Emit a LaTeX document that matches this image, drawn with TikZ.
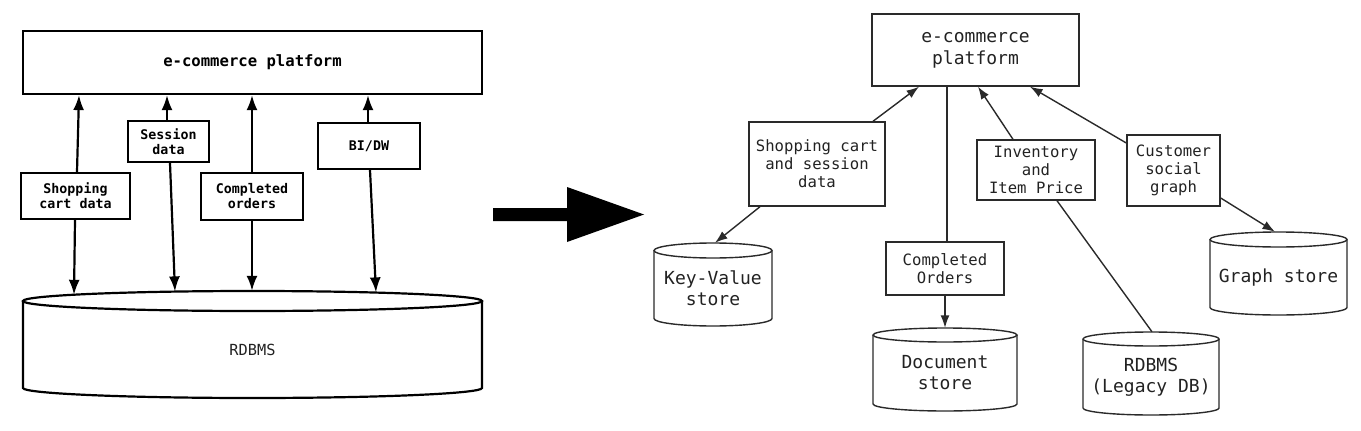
\documentclass[tikz,border=0pt]{standalone}
\usepackage{fontspec}
\setmonofont{DejaVu Sans Mono}
\usetikzlibrary{arrows.meta,calc}
\definecolor{lnc}{HTML}{2A2A2A}
\definecolor{txc}{HTML}{222222}
\newcommand\dbcyl[9]{% #1 name, #2 cx, #3 y of top ellipse centre, #4 y of bottom ellipse centre, #5 rx, #6 ry, #7 line style, #8 node style, #9 text
  \draw[#7] ({#2-#5},#3) -- ({#2-#5},#4) arc[start angle=180,end angle=0,x radius=#5,y radius=#6] -- ({#2+#5},#3);
  \draw[#7] (#2,#3) ellipse[x radius=#5,y radius=#6];
  \node[#8, inner sep=0pt, minimum width={2*#5}, minimum height={#4+#6-#3}] (#1) at (#2,{(#3+#4+#6)/2}) {#9};
}
\begin{document}
\begin{tikzpicture}[x=1pt,y=-1pt,
  lbox/.style={draw, line width=2.2pt, font=\ttfamily\bfseries\fontsize{13.3}{15}\selectfont, align=center, inner sep=0pt},
  rbox/.style={draw=lnc, line width=1.4pt, text=txc, font=\ttfamily\fontsize{15.6}{18}\selectfont, align=center, inner sep=0pt},
  larr/.style={line width=2.2pt, -{Latex[length=15pt,width=11pt]}},
  rarr/.style={draw=lnc, line width=1.4pt, -{Latex[length=12.5pt,width=9pt]}},
  rline/.style={draw=lnc, line width=1.4pt},
  lcyl/.style={line width=2.2pt},
  rcyl/.style={draw=lnc, line width=1.4pt},
  lcyltext/.style={font=\ttfamily\fontsize{15.3}{18}\selectfont, text=txc},
  rcyltext/.style={font=\ttfamily\fontsize{18}{21}\selectfont, text=txc, align=center},
]
\useasboundingbox (0,0) rectangle (1361,431);

% ---------------- left diagram ----------------
\node[lbox, font=\ttfamily\bfseries\fontsize{15.6}{18}\selectfont, minimum width=459, minimum height=63] (plat) at (252.5,62.5) {e-commerce platform};
\node[lbox, minimum width=109, minimum height=46] (shop) at (75.5,196) {Shopping\\cart data};
\node[lbox, minimum width=81, minimum height=41] (sess) at (168.5,141.5) {Session\\data};
\node[lbox, minimum width=102, minimum height=47] (comp) at (252,196.5) {Completed\\orders};
\node[lbox, minimum width=102, minimum height=46] (bidw) at (369,146) {BI/DW};
\dbcyl{rdb}{252.5}{301}{388}{229.5}{10}{lcyl}{lcyltext}{RDBMS}

\draw[larr] ($(shop.north)+(1.5,0)$) -- ($(shop.north |- plat.south)+(3.5,0)$);
\draw[larr] ($(shop.south)+(-0.5,0)$) -- ($(shop.south |- rdb.north)+(-1.5,-6)$);
\draw[larr] ($(sess.north)+(-1.5,0)$) -- ($(sess.north |- plat.south)+(-1.5,0)$);
\draw[larr] ($(sess.south)+(1.5,0)$) -- ($(sess.south |- rdb.north)+(6.5,-9.4)$);
\draw[larr] (comp.north) -- (comp.north |- plat.south);
\draw[larr] (comp.south) -- ($(comp.south |- rdb.north)+(0,-10)$);
\draw[larr] ($(bidw.north)+(-1,0)$) -- ($(bidw.north |- plat.south)+(-1,0)$);
\draw[larr] ($(bidw.south)+(1,0)$) -- ($(bidw.south |- rdb.north)+(7,-8.4)$);

% ---------------- transition arrow ----------------
\fill (493,208) -- (567,208) -- (567,187) -- (644,214.5) -- (567,242) -- (567,221) -- (493,221) -- cycle;

% ---------------- right diagram ----------------
\node[rbox, font=\ttfamily\fontsize{18}{22}\selectfont, minimum width=207, minimum height=72] (plat2) at (975.5,50) {e-commerce\\platform};
\node[rbox, minimum width=136, minimum height=84] (scs) at (817,164) {Shopping cart\\and session\\data};
\node[rbox, minimum width=118, minimum height=53] (co) at (945,268.5) {Completed\\Orders};
\node[rbox, minimum width=118, minimum height=60] (inv) at (1036,170) {Inventory\\and\\Item Price};
\node[rbox, minimum width=93, minimum height=71] (cust) at (1173.5,170.5) {Customer\\social\\graph};

\dbcyl{kv}{713}{250.5}{318.5}{59}{7.5}{rcyl}{rcyltext}{Key-Value\\store}
\dbcyl{doc}{945}{335}{404}{72}{7}{rcyl}{rcyltext}{Document\\store}
\dbcyl{graph}{1278.5}{239.5}{307.5}{68.5}{7.5}{rcyl}{rcyltext}{Graph store}
\dbcyl{leg}{1151}{339}{408}{68}{7}{rcyl}{rcyltext}{RDBMS\\(Legacy DB)}

\draw[rarr] ($(scs.north)+(56,0)$) -- ($(plat2.south)+(-56.5,0)$);
\draw[rarr] ($(scs.south)+(-57,0)$) -- ($(kv.north)+(2,-7.5)$);
\draw[rline] ($(co.north |- plat2.south)+(2,0)$) -- ($(co.north)+(2,0)$);
\draw[rarr] (co.south) -- ($(doc.north)+(0,-7)$);
\draw[rarr] ($(inv.north)+(-23,0)$) -- ($(plat2.south)+(2.5,0)$);
\draw[rline] ($(inv.south)+(21,0)$) -- ($(leg.north)+(1,-7)$);
\draw[rarr] ($(cust.west)+(0,-27.5)$) -- ($(plat2.south)+(54.5,0)$);
\draw[rarr] ($(cust.east)+(0,27.5)$) -- ($(graph.north)+(-3.5,-7.5)$);
\end{tikzpicture}
\end{document}
